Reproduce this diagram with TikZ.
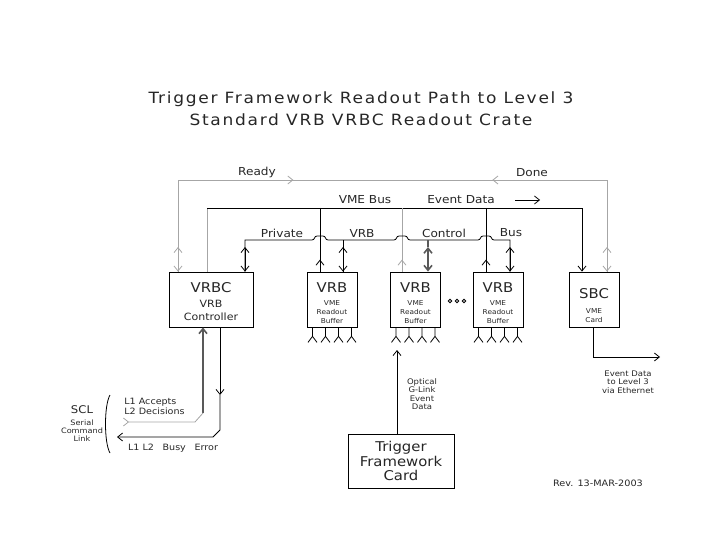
\documentclass[tikz,border=0pt]{standalone}
\usepackage{fontspec}
\setmainfont{DejaVu Sans}[FakeStretch=1.1]
\usepackage{tikz}
\usetikzlibrary{arrows.meta,decorations.markings}
\newcommand{\fsz}[2]{\fontsize{#1}{#2}\selectfont}
\tikzset{
  box/.style={draw, rectangle, inner sep=0pt, minimum width=50pt, minimum height=55pt},
  lite/.style={draw=black!35},
  heavy/.style={draw=black!65, line width=1.6pt},
  headline/.style={font=\fsz{15.5}{22}\addfontfeatures{LetterSpace=11}, align=center},
  boxtitle/.style={font=\fsz{13.5}{15}, anchor=north, inner sep=0pt},
  boxsub/.style={font=\fsz{10}{13}, align=center, anchor=north, inner sep=0pt},
  boxsmall/.style={font=\fsz{6.7}{9}, align=center, anchor=north, inner sep=0pt},
  buslabel/.style={font=\fsz{11}{13}, inner sep=0pt},
  sidenote/.style={font=\fsz{7.7}{8.5}, align=center, inner sep=0pt}
}

\begin{document}
\begin{tikzpicture}[x=1pt, y=-1pt, line width=0.8pt, >={Straight Barb[length=5pt,width=8pt]}, text=black!85]
\useasboundingbox (0,0) rectangle (720,540);

\node[headline] (title) at (361,109) {Trigger Framework Readout Path to Level 3\\Standard VRB VRBC Readout Crate};

% crate modules
\node[box, minimum width=84pt] (vrbc) at (211,299.5) {};
\node[box] (vrbA) at (332,299.5) {};
\node[box] (vrbB) at (415.5,299.5) {};
\node[box] (vrbC) at (498,299.5) {};
\node[box] (sbc) at (594,299.5) {};
\node[box, minimum width=106pt, minimum height=54pt, font=\fsz{13.5}{14.5}, align=center] (tfc) at (401,461) {Trigger\\Framework\\Card};

\node[boxtitle] (vrbc-t) at ([yshift=-10pt]vrbc.north) {VRBC};
\node[boxsub] (vrbc-s) at ([yshift=-28.5pt]vrbc.north) {VRB\\Controller};
\foreach \b in {vrbA,vrbB,vrbC} {
  \node[boxtitle] (\b-t) at ([yshift=-11pt]\b.north) {VRB};
  \node[boxsmall] (\b-s) at ([yshift=-28.5pt]\b.north) {VME\\Readout\\Buffer};
  \foreach \d in {-19.5,-6.5,6.5,19.5}
    \draw ([xshift=\d pt]\b.south) -- ++(0,9) ++(-4.5,6) -- ++(4.5,-6) -- ++(4.5,6);
}
\node[boxtitle] (sbc-t) at ([yshift=-16pt]sbc.north) {SBC};
\node[boxsmall] (sbc-s) at ([yshift=-36.5pt]sbc.north) {VME\\Card};
\foreach \x in {450,457,464} \draw (\x,301) circle[radius=1.8pt];

% bus labels
\node[buslabel] (ready) at (257,172) {Ready};
\node[buslabel] (done) at (532,173) {Done};
\node[buslabel] (vmebus) at (365,200) {VME Bus};
\node[buslabel] (evdata) at (461,200) {Event Data};
\node[buslabel] (private) at (282,233) {Private};
\node[buslabel] (vrblbl) at (362,233) {VRB};
\node[buslabel] (control) at (444,233) {Control};
\node[buslabel] (buslbl) at (511,233) {Bus};

% ready / done
\draw[lite, postaction={decorate}, decoration={markings,
    mark=at position 207pt with {\arrow{>}}, mark=at position 412pt with {\arrow{<}}}]
  (vrbc.north -| 178,0) -- (178,180) -- (607,180) -- (sbc.north -| 607,0);
\draw[lite, <->] (178,247) -- (vrbc.north -| 178,0);
\draw[lite, <->] (607,247) -- (sbc.north -| 607,0);

% VME bus
\draw[lite] (vrbc.north -| 207,0) -- (207,208);
\draw[->] (207,208) -- (582,208) -- (sbc.north -| 582,0);
\draw[->] ([xshift=20pt]evdata.east) -- ++(25,0);
\foreach \b/\x/\c in {vrbA/320/black, vrbB/402/black!35, vrbC/486/black} {
  \draw[draw=\c] (\x,208) -- (\b.north -| \x,0);
  \draw[draw=\c, ->] (\b.north -| \x,0) -- ++(0,-12);
}

% private VRB control bus
\draw (vrbc.north -| 245,0) -- (245,240)
  \foreach \h in {320,402,486} { -- (\h-8,240) .. controls (\h-5,240) and (\h-6,236) .. (\h-3,236)
    -- (\h+3,236) .. controls (\h+6,236) and (\h+5,240) .. (\h+8,240) }
  -- (510,240) -- (vrbC.north -| 510,0);
\foreach \b/\x in {vrbc/245, vrbA/343, vrbC/510} \draw[<->] (\x,247) -- (\b.north -| \x,0);
\draw (343,240) -- (vrbA.north -| 343,0);
\draw[heavy] (428,240) -- (428,247);
\draw[heavy, <->] (428,247) -- (vrbB.north -| 428,0);

% outputs
\draw[->] (sbc.south -| 593,0) |- (660,357);
\node[sidenote] (ethnote) at (628,382) {Event Data\\to Level 3\\via Ethernet};
\draw[->] (tfc.north -| 397,0) -- (397,350);
\node[sidenote] (glink) at (422,394) {Optical\\G-Link\\Event\\Data};

% serial command link
\node[font=\fsz{10.6}{12}] (scl) at (82,410) {SCL};
\node[font=\fsz{7.4}{8}, align=center] (scltxt) at (82,431) {Serial\\Command\\Link};
\draw (110,395) .. controls (104,405) and (104,443) .. (110,453);
\node[font=\fsz{8.7}{10}, align=left, anchor=west, inner sep=0pt] (accepts) at (124,406) {L1 Accepts\\L2 Decisions};
\node[font=\fsz{8.7}{10}, inner sep=0pt] (busy) at (173,448) {L1 L2\quad Busy\quad Error};
\coordinate (sclin) at (123,422);
\coordinate (sclout) at (117,437);
\draw[heavy, <-] (vrbc.south -| 203,0) -- (203,413);
\draw[lite, >-] (sclin) -- (195,422) -- (203,413);
\draw[->] (vrbc.south -| 220,0) -- (220,395);
\draw[->] (220,395) -- (220,430) -- (213,437) -- (sclout);

\node[font=\fsz{8.8}{10}] (rev) at (598,483) {Rev. 13-MAR-2003};
\end{tikzpicture}
\end{document}
